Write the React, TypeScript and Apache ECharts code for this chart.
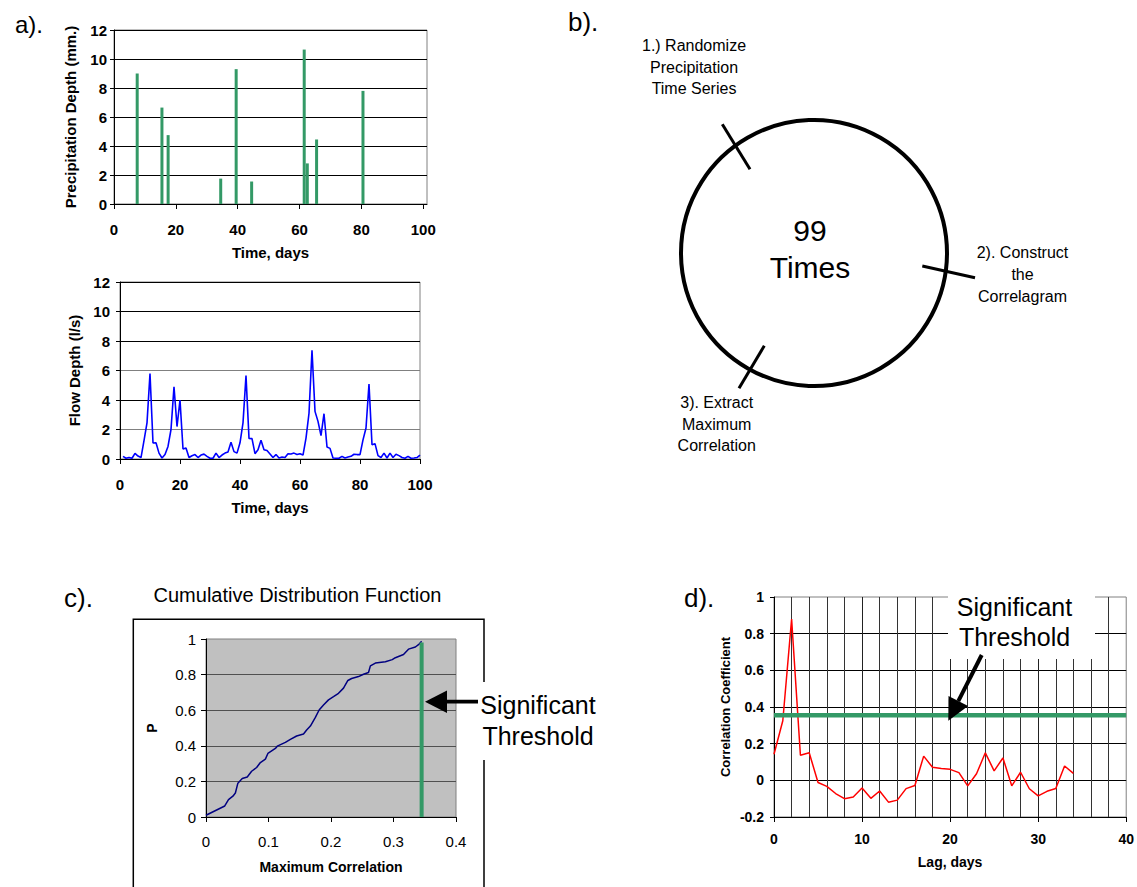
import React, { useEffect, useRef } from "react";
import * as echarts from "echarts";

const FONT = "'Liberation Sans', Arial, Helvetica, sans-serif";

// a) precipitation events (day, depth in mm)
const rainDays = [7.5, 15.5, 17.5, 34.5, 39.5, 44.5, 61.5, 62.5, 65.5, 80.5];
const rainDepth = [9.0, 6.65, 4.75, 1.75, 9.3, 1.55, 10.65, 2.8, 4.45, 7.8];

// a) daily flow depth, days 1..100
const flowDepth = [
  0.18, 0.05, 0.1, 0.05, 0.38, 0.2, 0.1, 1.25, 2.45, 5.8,
  1.08, 1.1, 0.4, 0.07, 0.3, 0.85, 2.0, 4.9, 2.2, 4.0,
  0.68, 0.75, 0.1, 0.22, 0.3, 0.1, 0.27, 0.33, 0.18, 0.05,
  0.05, 0.4, 0.1, 0.27, 0.4, 0.47, 1.13, 0.5, 0.4, 1.1,
  2.45, 5.65, 1.4, 1.38, 0.36, 0.63, 1.27, 0.63, 0.57, 0.34,
  0.1, 0.3, 0.07, 0.13, 0.1, 0.36, 0.34, 0.4, 0.3, 0.36,
  0.27, 1.42, 3.1, 7.37, 3.23, 2.55, 1.58, 3.07, 0.81, 0.72,
  0.07, 0.05, 0.05, 0.18, 0.07, 0.13, 0.18, 0.32, 0.3, 0.3,
  1.3, 2.1, 5.08, 0.97, 1.04, 0.23, 0.1, 0.4, 0.07, 0.4,
  0.1, 0.32, 0.23, 0.1, 0.05, 0.18, 0.05, 0.07, 0.1, 0.27,
];

// c) empirical CDF of the maximum correlation
const cdfMaxCorr = [
  0, 0.03, 0.036, 0.043, 0.047, 0.051, 0.058, 0.066, 0.073, 0.081, 0.087,
  0.095, 0.099, 0.111, 0.114, 0.127, 0.135, 0.145, 0.156, 0.161, 0.167,
  0.175, 0.181, 0.188, 0.196, 0.204, 0.212, 0.22, 0.227, 0.233, 0.244,
  0.252, 0.26, 0.263, 0.271, 0.287, 0.298, 0.303, 0.316, 0.324, 0.335,
  0.34, 0.345,
];
const cdfProb = [
  0.01, 0.062, 0.098, 0.117, 0.135, 0.19, 0.216, 0.225, 0.257, 0.278, 0.306,
  0.325, 0.357, 0.385, 0.398, 0.419, 0.436, 0.455, 0.466, 0.489, 0.511,
  0.56, 0.601, 0.629, 0.658, 0.676, 0.695, 0.724, 0.767, 0.778, 0.789,
  0.802, 0.812, 0.849, 0.865, 0.872, 0.884, 0.895, 0.913, 0.943, 0.955,
  0.968, 0.987,
];
const cdfThreshold = 0.345;
const cdfThresholdTop = 0.98;

// d) correlogram, lags 0..34 days
const corrCoef = [
  0.142, 0.325, 0.88, 0.137, 0.15, -0.012, -0.033, -0.072, -0.1, -0.091,
  -0.042, -0.098, -0.058, -0.119, -0.108, -0.045, -0.028, 0.132, 0.071, 0.064,
  0.06, 0.042, -0.03, 0.036, 0.15, 0.052, 0.122, -0.03, 0.044, -0.046,
  -0.085, -0.06, -0.045, 0.078, 0.038,
];
const corrThreshold = 0.355;

const dayTicks = [0, 20, 40, 60, 80, 100];

const axisLineBlack = { show: true, onZero: false, lineStyle: { color: "#000", width: 1 } };
const tickBlack = (length: number, extra: any = {}) => ({
  show: true,
  inside: false,
  length,
  lineStyle: { color: "#000", width: 1 },
  ...extra,
});
const labelStyle = (fontSize: number, bold: boolean, margin: number, extra: any = {}) => ({
  color: "#000",
  fontFamily: FONT,
  fontSize,
  fontWeight: bold ? "bold" : "normal",
  margin,
  ...extra,
});
const nameStyle = (fontSize: number) => ({
  color: "#000",
  fontFamily: FONT,
  fontSize,
  fontWeight: "bold",
});

const txt = (x: number, y: number, text: string, fontSize: number, extra: any = {}) => ({
  type: "text",
  x,
  y,
  z: 60,
  style: {
    text,
    fontFamily: FONT,
    fontSize,
    fill: "#000",
    align: "center",
    verticalAlign: "middle",
    textAlign: "center",
    textVerticalAlign: "middle",
    ...extra,
  },
});

function buildOption(): any {
  return {
    animation: false,
    backgroundColor: "#fff",
    grid: [
      { left: 114, top: 30, width: 313, height: 174, show: true, borderColor: "#808080", borderWidth: 1, backgroundColor: "transparent" },
      { left: 120, top: 282, width: 300, height: 177, show: true, borderColor: "#808080", borderWidth: 1, backgroundColor: "transparent" },
      { left: 206, top: 639, width: 250, height: 178, show: true, borderColor: "#808080", borderWidth: 1, backgroundColor: "#c0c0c0" },
      { left: 774, top: 597, width: 355, height: 220, show: true, borderColor: "#808080", borderWidth: 1, backgroundColor: "transparent" },
    ],
    xAxis: [
      {
        gridIndex: 0, type: "value", min: 0, max: 101.2,
        axisLine: axisLineBlack,
        axisTick: tickBlack(5, { customValues: dayTicks }),
        axisLabel: labelStyle(15, true, 18, {
          customValues: dayTicks,
          formatter: (v: number) => (dayTicks.includes(v) ? String(v) : ""),
        }),
        splitLine: { show: false },
        name: "Time, days", nameLocation: "middle", nameGap: 41, nameTextStyle: nameStyle(15),
      },
      {
        gridIndex: 1, type: "value", min: 0, max: 100, interval: 20,
        axisLine: axisLineBlack,
        axisTick: tickBlack(5),
        axisLabel: labelStyle(15, true, 18),
        splitLine: { show: false },
        name: "Time, days", nameLocation: "middle", nameGap: 41, nameTextStyle: nameStyle(15),
      },
      {
        gridIndex: 2, type: "value", min: 0, max: 0.4, interval: 0.1,
        axisLine: axisLineBlack,
        axisTick: tickBlack(5),
        axisLabel: labelStyle(15, false, 17),
        splitLine: { show: false },
        name: "Maximum Correlation", nameLocation: "middle", nameGap: 43, nameTextStyle: nameStyle(14),
      },
      {
        gridIndex: 3, type: "value", min: 0, max: 40, interval: 10,
        axisLine: axisLineBlack,
        axisTick: tickBlack(5),
        axisLabel: labelStyle(14, true, 15),
        splitLine: { show: true, showMinLine: false, showMaxLine: false, lineStyle: { color: "#222", width: 1 } },
        minorTick: { show: false, splitNumber: 5 },
        minorSplitLine: { show: true, lineStyle: { color: "#333", width: 1 } },
        name: "Lag, days", nameLocation: "middle", nameGap: 38, nameTextStyle: nameStyle(14),
      },
    ],
    yAxis: [
      {
        gridIndex: 0, type: "value", min: 0, max: 12, interval: 2,
        axisLine: axisLineBlack,
        axisTick: tickBlack(4),
        axisLabel: labelStyle(15, true, 7),
        splitLine: { show: true, lineStyle: { color: "#000", width: 1 } },
        name: "Precipitation Depth (mm.)", nameLocation: "middle", nameGap: 36, nameTextStyle: nameStyle(15),
      },
      {
        gridIndex: 1, type: "value", min: 0, max: 12, interval: 2,
        axisLine: axisLineBlack,
        axisTick: tickBlack(4),
        axisLabel: labelStyle(15, true, 10),
        splitLine: {
          show: true,
          lineStyle: { color: ["#000", "#808080", "#000", "#808080", "#000", "#000", "#000"], width: 1 },
        },
        name: "Flow Depth (l/s)", nameLocation: "middle", nameGap: 38, nameTextStyle: nameStyle(15),
      },
      {
        gridIndex: 2, type: "value", min: 0, max: 1, interval: 0.2,
        axisLine: axisLineBlack,
        axisTick: tickBlack(5),
        axisLabel: labelStyle(15, false, 10),
        splitLine: { show: true, showMaxLine: false, lineStyle: { color: "#505050", width: 1 } },
        name: "P", nameLocation: "middle", nameGap: 47, nameTextStyle: nameStyle(14),
      },
      {
        gridIndex: 3, type: "value", min: -0.2, max: 1, interval: 0.2,
        axisLine: axisLineBlack,
        axisTick: tickBlack(4),
        axisLabel: labelStyle(14, true, 10),
        splitLine: { show: true, showMaxLine: false, lineStyle: { color: "#000", width: 1 } },
        name: "Correlation Coefficient", nameLocation: "middle", nameGap: 42, nameTextStyle: nameStyle(13),
      },
    ],
    series: [
      {
        type: "bar",
        xAxisIndex: 0,
        yAxisIndex: 0,
        barWidth: 3,
        itemStyle: { color: "#339966" },
        data: rainDays.map((d, i) => [d, rainDepth[i]]),
      },
      {
        type: "line",
        xAxisIndex: 1,
        yAxisIndex: 1,
        symbol: "none",
        lineStyle: { color: "#0000ff", width: 1.6 },
        data: flowDepth.map((v, i) => [i + 1, v]),
      },
      {
        type: "line",
        xAxisIndex: 2,
        yAxisIndex: 2,
        symbol: "none",
        lineStyle: { color: "#000080", width: 1.5 },
        data: cdfMaxCorr.map((c, i) => [c, cdfProb[i]]),
      },
      {
        type: "line",
        xAxisIndex: 2,
        yAxisIndex: 2,
        symbol: "none",
        z: 3,
        lineStyle: { color: "#339966", width: 4 },
        data: [
          [cdfThreshold, 0],
          [cdfThreshold, cdfThresholdTop],
        ],
      },
      {
        type: "line",
        xAxisIndex: 3,
        yAxisIndex: 3,
        symbol: "none",
        lineStyle: { color: "#ff0000", width: 1.5 },
        data: corrCoef.map((v, i) => [i, v]),
      },
      {
        type: "line",
        xAxisIndex: 3,
        yAxisIndex: 3,
        symbol: "none",
        lineStyle: { color: "#339966", width: 4.5 },
        data: [
          [0, corrThreshold],
          [40, corrThreshold],
        ],
      },
    ],
    graphic: [
      // panel letters
      txt(15, 24, "a).", 24, { align: "left", textAlign: "left" }),
      txt(568, 22, "b).", 26, { align: "left", textAlign: "left" }),
      txt(64, 598, "c).", 26, { align: "left", textAlign: "left" }),
      txt(684, 598, "d).", 26, { align: "left", textAlign: "left" }),

      // b) the loop
      {
        type: "circle",
        z: 60,
        shape: { cx: 814, cy: 253, r: 133 },
        style: { fill: "none", stroke: "#000", lineWidth: 4 },
      },
      { type: "line", z: 60, shape: { x1: 722.3, y1: 124.3, x2: 750, y2: 169.3 }, style: { stroke: "#000", lineWidth: 3 } },
      { type: "line", z: 60, shape: { x1: 922.3, y1: 266, x2: 975, y2: 277.7 }, style: { stroke: "#000", lineWidth: 3 } },
      { type: "line", z: 60, shape: { x1: 764.3, y1: 345.7, x2: 739, y2: 388.3 }, style: { stroke: "#000", lineWidth: 3 } },
      txt(810, 230, "99", 30),
      txt(810, 267, "Times", 30),
      txt(694, 67, "1.) Randomize\nPrecipitation\nTime Series", 16, { lineHeight: 21.7 }),
      txt(1022.5, 274, "2). Construct\nthe\nCorrelagram", 16, { lineHeight: 22 }),
      txt(716.7, 424, "3). Extract\nMaximum\nCorrelation", 16, { lineHeight: 21.7 }),

      // c) frame, title and annotation
      txt(297.5, 595, "Cumulative Distribution Function", 20),
      {
        type: "rect",
        z: 55,
        shape: { x: 133.3, y: 619.3, width: 350.7, height: 300 },
        style: { fill: "none", stroke: "#000", lineWidth: 1.5 },
      },
      {
        type: "rect",
        z: 56,
        shape: { x: 470, y: 682, width: 135, height: 78 },
        style: { fill: "#fff", stroke: "none" },
      },
      {
        type: "polygon",
        z: 60,
        shape: { points: [[425, 701.7], [447, 690.5], [447, 713]] },
        style: { fill: "#000" },
      },
      {
        type: "rect",
        z: 60,
        shape: { x: 445, y: 699.8, width: 33, height: 3.8 },
        style: { fill: "#000" },
      },
      txt(538, 720.5, "Significant\nThreshold", 25, { lineHeight: 31 }),

      // d) annotation
      {
        type: "rect",
        z: 56,
        shape: { x: 948, y: 585, width: 147, height: 74 },
        style: { fill: "#fff", stroke: "none" },
      },
      {
        type: "line",
        z: 60,
        shape: { x1: 981.7, y1: 655, x2: 958.3, y2: 701.1 },
        style: { stroke: "#000", lineWidth: 4 },
      },
      {
        type: "polygon",
        z: 60,
        shape: { points: [[948.3, 720.7], [968.1, 706.1], [948.5, 696.1]] },
        style: { fill: "#000" },
      },
      txt(1014.5, 622, "Significant\nThreshold", 25, { lineHeight: 30 }),
    ],
  };
}

export default function App() {
  const ref = useRef<HTMLDivElement | null>(null);

  useEffect(() => {
    if (!ref.current) return;
    const chart = echarts.init(ref.current, undefined, { renderer: "svg" });
    chart.setOption(buildOption());
    return () => {
      chart.dispose();
    };
  }, []);

  return (
    <div
      ref={ref}
      style={{ position: "absolute", left: 0, top: 0, width: 1137, height: 887, background: "#fff" }}
    />
  );
}
